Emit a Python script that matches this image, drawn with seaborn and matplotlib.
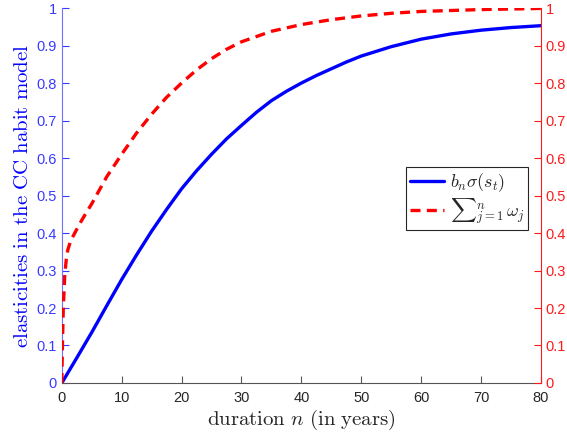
import pandas as pd
import seaborn as sns
from matplotlib import pyplot as plt
from matplotlib import ticker as ticktools

# values
blue_n = [0, 2.5, 5, 7.5, 10, 12.5, 15, 17.5, 20, 22.5, 25, 27.5, 30, 32.5, 35, 37.5,
          40, 42.5, 45, 47.5, 50, 55, 60, 65, 70, 75, 80]
blue_val = [0.0, 0.067, 0.135, 0.206, 0.276, 0.342, 0.405, 0.463, 0.518, 0.566, 0.61,
            0.651, 0.687, 0.722, 0.753, 0.778, 0.80, 0.82, 0.838, 0.856, 0.872, 0.897,
            0.917, 0.931, 0.941, 0.948, 0.953]

red_n = [0, 0.1, 0.25, 0.5, 0.75, 1, 1.5, 2, 3, 4, 5, 7.5, 10, 12.5, 15, 17.5, 20, 22.5,
         25, 27.5, 30, 35, 40, 45, 50, 55, 60, 70, 80]
red_val = [0.0, 0.1, 0.2, 0.29, 0.33, 0.355, 0.38, 0.395, 0.425, 0.452, 0.478, 0.55,
           0.61, 0.667, 0.717, 0.762, 0.80, 0.835, 0.865, 0.89, 0.91, 0.938, 0.956,
           0.969, 0.979, 0.986, 0.991, 0.996, 0.999]

blue_df = pd.DataFrame({"n": blue_n, "val": blue_val})
red_df = pd.DataFrame({"n": red_n, "val": red_val})

sns.set_style("white")
plt.rcParams["font.family"] = ["Liberation Sans", "DejaVu Sans"]
plt.rcParams["mathtext.fontset"] = "cm"

fig = plt.figure(figsize=(5.67, 4.38), dpi=100)
ax1 = fig.add_axes([0.109, 0.1256, 0.845, 0.856])
ax2 = ax1.twinx()

sns.lineplot(data=blue_df, x="n", y="val", ax=ax1, color="#0000ff", linewidth=2.4,
             label=r"$b_n\sigma(s_t)$", legend=False)
sns.lineplot(data=red_df, x="n", y="val", ax=ax2, color="#ff0000", linewidth=2.4,
             linestyle=(0, (3, 1.9)), label=r"${\sum}_{j=1}^{n}\,\omega_j$", legend=False)

left_col = "#3a3aff"
right_col = "#ff1a1a"
for ax in (ax1, ax2):
    ax.set_xlim(0, 80)
    ax.set_ylim(0, 1)
    ax.yaxis.set_major_locator(ticktools.MultipleLocator(0.1))
    ax.yaxis.set_major_formatter(ticktools.FormatStrFormatter("%g"))
    ax.spines["top"].set_visible(False)
    ax.tick_params(direction="in", length=5, labelsize=10.5)
    ax.set_xlabel("")
    ax.set_ylabel("")

ax1.xaxis.set_major_locator(ticktools.MultipleLocator(10))
ax1.spines["left"].set_color("#6f6fff")
ax1.spines["right"].set_visible(False)
ax1.spines["bottom"].set_color("#555555")
ax1.tick_params(axis="y", colors=left_col)
ax1.tick_params(axis="x", colors="#555555", labelcolor="#262626", bottom=True, pad=6)
ax2.spines["right"].set_color(right_col)
ax2.spines["left"].set_visible(False)
ax2.spines["bottom"].set_visible(False)
ax2.tick_params(axis="y", colors=right_col, right=True)

ax1.set_xlabel(r"$\mathrm{duration}\ n\ \mathrm{(in\ years)}$", fontsize=15, color="#262626",
               labelpad=2)
ax1.set_ylabel(r"$\mathrm{elasticities\ in\ the\ CC\ habit\ model}$", fontsize=15,
               color="#0000ff", labelpad=3)

h1, l1 = ax1.get_legend_handles_labels()
h2, l2 = ax2.get_legend_handles_labels()
leg = ax2.legend(h1 + h2, l1 + l2, loc="upper right", bbox_to_anchor=(0.973, 0.575),
                 fontsize=13, frameon=True, fancybox=False, framealpha=1,
                 edgecolor="#262626", borderpad=0.2, handlelength=1.9,
                 handletextpad=0.3, labelspacing=0.15, borderaxespad=0)
leg.get_frame().set_linewidth(0.8)

fig.savefig("out.png", dpi=100)
